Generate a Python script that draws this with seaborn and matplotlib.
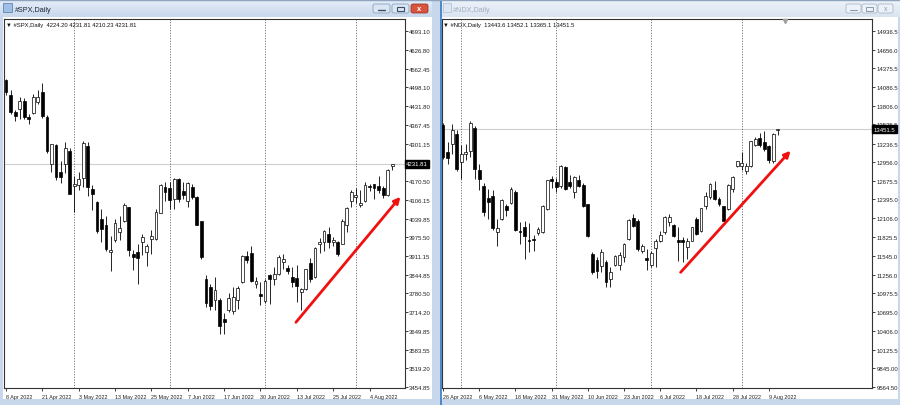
import numpy as np
import pandas as pd
import matplotlib
matplotlib.use("Agg")
import matplotlib.pyplot as plt
import matplotlib.transforms as mtransforms
from matplotlib.patches import Rectangle, FancyBboxPatch
import seaborn as sns

# --------------------------------------------------------------
# Data
# --------------------------------------------------------------
holidays = ["2022-04-15", "2022-05-30", "2022-06-20", "2022-07-04"]

spx_open = [4521, 4469, 4410, 4420, 4451, 4393, 4408, 4447, 4481, 4393,
            4231, 4297, 4202, 4231, 4277, 4154, 4158, 4180, 4292, 4142,
            4097, 4039, 4018, 3924, 3964, 3995, 4030, 4080, 3917, 3923,
            3960, 3923, 3969, 3969, 4060, 4149, 4146, 4109, 4178, 4135,
            4100, 4149, 4115, 4030, 3830, 3802, 3755, 3758, 3689, 3723,
            3720, 3755, 3819, 3909, 3920, 3812, 3778, 3754, 3842, 3830,
            3848, 3888, 3867, 3836, 3832, 3786, 3795, 3886, 3836, 3952,
            3958, 3987, 3960, 3958, 3952, 4018, 4100, 4116, 4086, 4100,
            4155, 4161, 4155, 4145, 4122, 4224.20]
spx_high = [4527, 4486, 4418, 4462, 4460, 4405, 4474, 4488, 4513, 4400,
            4300, 4300, 4242, 4308, 4285, 4190, 4201, 4310, 4306, 4158,
            4103, 4074, 4049, 3980, 4040, 4050, 4095, 4082, 3930, 3952,
            3985, 3952, 4000, 4075, 4160, 4169, 4168, 4180, 4182, 4169,
            4168, 4162, 4120, 4032, 3842, 3812, 3838, 3762, 3712, 3780,
            3802, 3805, 3914, 3928, 3946, 3838, 3819, 3830, 3848, 3870,
            3912, 3918, 3880, 3873, 3877, 3797, 3866, 3903, 3940, 3974,
            4000, 4012, 3975, 3962, 4040, 4079, 4140, 4145, 4141, 4168,
            4161, 4162, 4187, 4152, 4212, 4231.81]
spx_low = [4470, 4405, 4380, 4388, 4388, 4370, 4404, 4440, 4390, 4268,
           4201, 4175, 4163, 4200, 4124, 4062, 4140, 4150, 4120, 4070,
           3990, 3960, 3928, 3858, 3958, 3964, 4028, 3911, 3860, 3812,
           3912, 3876, 3918, 3965, 4058, 4103, 4074, 4075, 4098, 4108,
           4080, 4107, 4017, 3900, 3734, 3722, 3722, 3638, 3637, 3714,
           3708, 3727, 3815, 3885, 3819, 3800, 3740, 3745, 3742, 3808,
           3845, 3866, 3847, 3802, 3751, 3722, 3790, 3818, 3832, 3922,
           3928, 3939, 3943, 3910, 3950, 3993, 4079, 4096, 4080, 4098,
           4135, 4107, 4129, 4112, 4118, 4210.23]
spx_close = [4481, 4411, 4398, 4451, 4393, 4386, 4462, 4462, 4397, 4274,
             4298, 4185, 4186, 4285, 4127, 4160, 4178, 4304, 4150, 4126,
             3998, 4004, 3935, 3931, 4024, 4006, 4088, 3930, 3906, 3902,
             3975, 3943, 3980, 4063, 4157, 4132, 4106, 4178, 4109, 4121,
             4165, 4115, 4018, 3906, 3747, 3737, 3793, 3665, 3679, 3765,
             3767, 3798, 3909, 3897, 3824, 3824, 3772, 3824, 3831, 3848,
             3907, 3900, 3856, 3819, 3807, 3795, 3863, 3830, 3937, 3960,
             3998, 3958, 3967, 3917, 4030, 4076, 4132, 4122, 4095, 4157,
             4150, 4145, 4140, 4122, 4210, 4231.81]

ndx_open = [13510, 13107, 13233, 13384, 12956, 13082, 13122, 13470, 12830, 12603,
            12412, 12442, 11908, 12099, 12286, 12341, 12502, 11905, 11983, 11780,
            11800, 11883, 11898, 12251, 12704, 12653, 12593, 12890, 12653, 12502,
            12679, 12613, 12326, 11570, 11485, 11384, 11455, 11192, 11404, 11404,
            11520, 11797, 12109, 12074, 11621, 11505, 11404, 11656, 11772, 11898,
            12059, 12000, 11787, 11787, 11671, 11772, 12099, 11923, 12291, 12427,
            12528, 12402, 12291, 12251, 12553, 12905, 12905, 12815, 12905, 13218,
            13318, 13258, 13198, 12966, 13443.6]
ndx_high = [13545, 13258, 13535, 13440, 13208, 13230, 13580, 13500, 12931, 12640,
            12552, 12530, 12099, 12400, 12330, 12580, 12530, 12049, 12074, 12039,
            11850, 11980, 12310, 12690, 12740, 12720, 12910, 12900, 12760, 12740,
            12760, 12640, 12330, 11600, 11520, 11640, 11480, 11369, 11560, 11600,
            11740, 12099, 12170, 12100, 11720, 11646, 11620, 11800, 11923, 12150,
            12175, 12024, 11973, 11823, 11807, 11980, 12130, 12270, 12502, 12640,
            12664, 12430, 12300, 12625, 12740, 12980, 13110, 12940, 13280, 13330,
            13400, 13420, 13210, 13400, 13452.1]
ndx_low = [13000, 12931, 13082, 12820, 12704, 12990, 13040, 12704, 12528, 12150,
           12099, 11930, 11696, 12080, 12150, 12320, 11910, 11721, 11495, 11596,
           11620, 11850, 11880, 12240, 12560, 12500, 12560, 12540, 12560, 12420,
           12580, 12280, 11830, 11270, 11200, 11300, 11067, 11067, 11380, 11330,
           11450, 11787, 11970, 11620, 11590, 11320, 11370, 11370, 11757, 11873,
           11999, 11822, 11470, 11445, 11495, 11760, 11860, 11900, 12250, 12400,
           12377, 12300, 12060, 12240, 12500, 12880, 12830, 12780, 12890, 13200,
           13180, 13130, 12950, 12950, 13365.1]
ndx_close = [13031, 13016, 13434, 12845, 13082, 13107, 13550, 12855, 12704, 12200,
             12361, 11958, 11958, 12386, 12235, 12553, 11938, 11898, 11847, 11772,
             11775, 11948, 12301, 12679, 12664, 12578, 12905, 12553, 12593, 12729,
             12603, 12291, 11847, 11293, 11319, 11596, 11142, 11293, 11535, 11555,
             11716, 12089, 11999, 11646, 11696, 11480, 11586, 11772, 11857, 12124,
             12124, 11847, 11757, 11757, 11772, 11973, 11873, 12260, 12452, 12628,
             12402, 12326, 12074, 12613, 12729, 12966, 12941, 12905, 13268, 13308,
             13208, 13157, 12981, 13384, 13451.5]

spx_yticks = [4693.10, 4626.80, 4562.45, 4498.10, 4431.80, 4367.45, 4301.15,
              4170.50, 4106.15, 4039.85, 3975.50, 3911.15, 3844.85, 3780.50,
              3714.20, 3649.85, 3583.55, 3519.20, 3454.85]
ndx_yticks = [14936.5, 14656.0, 14375.5, 14086.5, 13806.0, 13525.5, 13236.5,
              12956.0, 12675.5, 12395.0, 12106.0, 11825.5, 11545.0, 11256.0,
              10975.5, 10695.0, 10406.0, 10125.5, 9845.0, 9564.5]

spx_header = "#SPX,Daily  4224.20 4231.81 4210.23 4231.81"
ndx_header = "#NDX,Daily  13443.6 13452.1 13365.1 13451.5"

# --------------------------------------------------------------
# Style
# --------------------------------------------------------------
sns.set_style("white")
plt.rcParams["font.family"] = ["Liberation Sans", "DejaVu Sans"]

W, H = 900, 406
fig = plt.figure(figsize=(W / 100, H / 100), dpi=100, facecolor="#c7d8ec")

# background canvas in pixel units (window frames, title bars)
bg = fig.add_axes([0, 0, 1, 1], zorder=0)
bg.set_xlim(0, W)
bg.set_ylim(H, 0)
bg.axis("off")

grad = np.linspace(0, 1, 20).reshape(-1, 1)
active = matplotlib.colors.LinearSegmentedColormap.from_list("a", ["#e6eef9", "#c9d8ec"])
inactive = matplotlib.colors.LinearSegmentedColormap.from_list("i", ["#eef3fa", "#dae4f1"])
bg.imshow(grad, cmap=active, extent=(0, 432, 18, 0), aspect="auto")
bg.imshow(grad, cmap=inactive, extent=(441, 900, 18, 0), aspect="auto")
bg.add_patch(Rectangle((3, 18), 428.5, 382, fc="white", ec="none"))
bg.add_patch(Rectangle((441, 18), 457, 382, fc="white", ec="none"))
bg.plot([440.5, 440.5], [0, H], color="#3a78c2", lw=1.2)
bg.plot([0, W], [0.5, 0.5], color="#8ea3bd", lw=1)
bg.set_xlim(0, W)
bg.set_ylim(H, 0)

# title texts + icons
bg.add_patch(Rectangle((3, 4), 9, 9, fc="#9fc0e4", ec="#5f86b5", lw=0.6))
bg.text(15, 10, "#SPX,Daily", fontsize=5.2, color="#1b2735", va="center")
bg.add_patch(Rectangle((443, 4), 8, 9, fc="#dde7f3", ec="#b4c4d8", lw=0.6))
bg.text(453, 10, "#NDX,Daily", fontsize=5.2, color="#a3afbf", va="center")

# window buttons
for x0, fc, ec in [(373, "#dbe6f3", "#8aa2c0"), (392, "#dbe6f3", "#8aa2c0"), (411, "#d9533d", "#9c3a2a")]:
    bg.add_patch(FancyBboxPatch((x0, 5), 17, 9, boxstyle="round,pad=0,rounding_size=2",
                                fc=fc, ec=ec, lw=0.6))
bg.plot([378, 385], [11, 11], color="#3c4e66", lw=1)
bg.add_patch(Rectangle((397, 7.5), 7, 4.5, fc="none", ec="#3c4e66", lw=0.8))
bg.text(419.5, 9.6, "x", fontsize=5.5, color="white", ha="center", va="center", weight="bold")
for x0 in [846, 862, 878]:
    bg.add_patch(FancyBboxPatch((x0, 5), 15, 9, boxstyle="round,pad=0,rounding_size=2",
                                fc="#edf2f8", ec="#a9b8cb", lw=0.6))
bg.plot([850, 857], [11, 11], color="#8d9aab", lw=0.8)
bg.add_patch(Rectangle((866, 7.5), 7, 4.5, fc="none", ec="#8d9aab", lw=0.7))
bg.text(885.5, 9.6, "x", fontsize=5, color="#8d9aab", ha="center", va="center")


def trading_days(start, end):
    d = pd.bdate_range(start, end)
    return d[~d.isin(pd.to_datetime(holidays))]


def px_axes(x0, x1, y0, y1):
    return fig.add_axes([x0 / W, 1 - y1 / H, (x1 - x0) / W, (y1 - y0) / H], zorder=2)


def draw_panel(ax, dates, o, h, l, c, yticks, ylim, xlim, header, arrow, minbody):
    o, h, l, c = map(np.asarray, (o, h, l, c))
    x = np.arange(len(o))
    ax.set_facecolor("white")

    # current price line
    ax.axhline(c[-1], color="#cfcfcf", lw=0.8, zorder=1)

    # monthly separators
    months = pd.Series(dates.month)
    for i in np.where(months.diff().fillna(0).values != 0)[0]:
        ax.axvline(i, color="#444444", lw=0.6, ls=(0, (1.2, 2.0)), zorder=1)

    # candles
    ax.vlines(x, l, h, color="black", lw=0.6, zorder=3)
    bottom = np.minimum(o, c)
    height = np.maximum(np.abs(c - o), minbody)
    up = c >= o
    ax.bar(x[up], height[up], bottom=bottom[up], width=0.62, color="white",
           edgecolor="black", linewidth=0.5, zorder=4)
    ax.bar(x[~up], height[~up], bottom=bottom[~up], width=0.62, color="black",
           edgecolor="black", linewidth=0.5, zorder=4)

    ax.set_xlim(*xlim)
    ax.set_ylim(*ylim)

    # axes / ticks
    for s in ax.spines.values():
        s.set_color("#333333")
        s.set_linewidth(0.8)
        s.set_visible(True)
    ax.yaxis.tick_right()
    ax.set_yticks(yticks)
    ax.set_yticklabels([f"{v:.2f}" if v < 10000 else f"{v:.1f}" for v in yticks])
    ax.tick_params(axis="y", direction="out", length=2, width=0.6, pad=1.2,
                   labelsize=4.3, colors="#222222", right=True, left=False)
    ticks = x[::8]
    ax.set_xticks(ticks)
    ax.set_xticklabels([f"{d.day} {d.strftime('%b %Y')}" for d in dates[::8]])
    ax.tick_params(axis="x", direction="out", length=2.5, width=0.6, pad=1.5,
                   labelsize=3.9, colors="#222222", bottom=True)
    for lbl in ax.get_xticklabels():
        lbl.set_horizontalalignment("left")

    # current price tag on the scale
    trans = mtransforms.blended_transform_factory(ax.transAxes, ax.transData)
    tag = f"{c[-1]:.2f}" if c[-1] < 10000 else f"{c[-1]:.1f}"
    ax.text(1.004, c[-1], tag, transform=trans, fontsize=4.3, color="white",
            va="center", ha="left", zorder=20, clip_on=False,
            bbox=dict(boxstyle="square,pad=0.25", fc="black", ec="black"))

    # header
    ax.text(0.004, 0.992, "\u25BC " + header, transform=ax.transAxes, fontsize=4.2,
            va="top", ha="left", color="#111111", zorder=6)

    # red trend arrow
    ax.annotate("", xy=arrow[1], xytext=arrow[0],
                arrowprops=dict(arrowstyle="-|>", color="#f01010", lw=2.0,
                                mutation_scale=9, shrinkA=0, shrinkB=0), zorder=7)


spx_dates = trading_days("2022-04-08", "2022-08-11")
ndx_dates = trading_days("2022-04-26", "2022-08-11")

ax1 = px_axes(4, 404.5, 20, 389)
draw_panel(ax1, spx_dates, spx_open, spx_high, spx_low, spx_close, spx_yticks,
           (3450.3, 4734.9), (-0.45, 87.7), spx_header,
           ((63.8, 3679), (86.8, 4116)), 3.0)

ax2 = px_axes(441.5, 872, 20, 389)
draw_panel(ax2, ndx_dates, ndx_open, ndx_high, ndx_low, ndx_close, ndx_yticks,
           (9544.9, 15117.7), (-0.35, 94.8), ndx_header,
           ((52.5, 11292), (76.8, 13128)), 13.0)
# chart shift marker
ax2.plot([0.797], [0.995], marker="v", ms=3, color="#a0a0a0", transform=ax2.transAxes,
         clip_on=False, zorder=8)

fig.savefig("out.png", dpi=100, facecolor=fig.get_facecolor())
